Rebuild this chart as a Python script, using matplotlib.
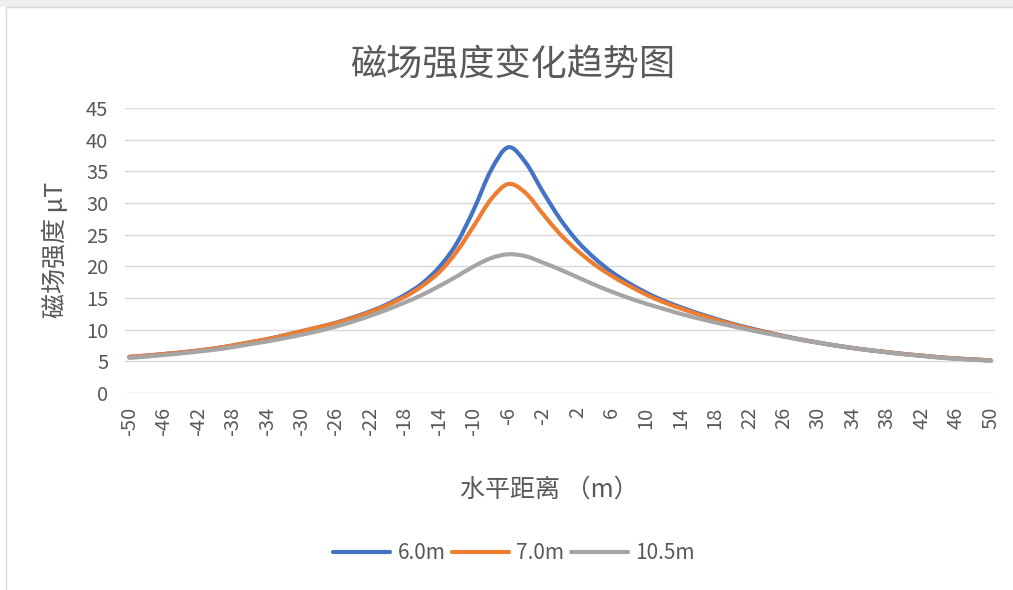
import matplotlib
matplotlib.use("Agg")
import matplotlib.pyplot as plt
from matplotlib.path import Path
from matplotlib.patches import PathPatch, Rectangle
from matplotlib.lines import Line2D
import numpy as np

plt.rcParams['font.family'] = ['Noto Sans CJK SC', 'DejaVu Sans']

# horizontal distance from the line centre (m)
distance = list(range(-50, 51, 2))

# field strength (uT) for each conductor height
field_6_0m = [5.7, 5.9, 6.15, 6.4, 6.7, 7.05, 7.5, 8.0, 8.5, 9.1,
              9.75, 10.4, 11.1, 11.95, 12.9, 14.05, 15.5, 17.3, 19.9, 23.6,
              29.0, 35.2, 38.8, 36.4, 31.8, 27.5, 24.0, 21.3, 19.1, 17.35,
              15.85, 14.6, 13.55, 12.6, 11.75, 10.95, 10.25, 9.6, 9.0, 8.45,
              7.95, 7.5, 7.1, 6.75, 6.45, 6.15, 5.9, 5.65, 5.45, 5.3, 5.15]
field_7_0m = [5.7, 5.9, 6.15, 6.4, 6.7, 7.05, 7.5, 8.0, 8.5, 9.1,
              9.75, 10.4, 11.05, 11.85, 12.8, 13.9, 15.2, 16.9, 19.1, 22.3,
              26.4, 30.6, 33.0, 31.6, 28.3, 25.1, 22.5, 20.3, 18.5, 16.95,
              15.55, 14.35, 13.35, 12.45, 11.6, 10.85, 10.15, 9.55, 8.95, 8.4,
              7.95, 7.5, 7.1, 6.75, 6.45, 6.15, 5.9, 5.65, 5.45, 5.3, 5.15]
field_10_5m = [5.55, 5.75, 6.0, 6.25, 6.55, 6.85, 7.25, 7.7, 8.15, 8.65,
               9.2, 9.8, 10.5, 11.3, 12.2, 13.2, 14.3, 15.5, 16.9, 18.4,
               20.0, 21.3, 21.9, 21.6, 20.6, 19.5, 18.3, 17.1, 16.0, 15.0,
               14.1, 13.3, 12.5, 11.8, 11.15, 10.55, 9.95, 9.4, 8.9, 8.4,
               7.95, 7.5, 7.1, 6.75, 6.4, 6.1, 5.85, 5.6, 5.4, 5.25, 5.1]

series_labels = ['6.0m', '7.0m', '10.5m']
series_colors = ['#4472C4', '#ED7D31', '#A5A5A5']
x_ticks = list(range(-50, 51, 4))
y_ticks = list(range(0, 46, 5))

TEXT = '#595959'


def smooth_path(xs, ys, tension=1.0 / 6.0):
    """Bezier path passing through every data point (spreadsheet-style smoothing)."""
    xs = np.asarray(xs, float)
    ys = np.asarray(ys, float)
    n = len(xs)
    verts = [(xs[0], ys[0])]
    codes = [Path.MOVETO]
    for i in range(n - 1):
        p0 = np.array([xs[max(i - 1, 0)], ys[max(i - 1, 0)]])
        p1 = np.array([xs[i], ys[i]])
        p2 = np.array([xs[i + 1], ys[i + 1]])
        p3 = np.array([xs[min(i + 2, n - 1)], ys[min(i + 2, n - 1)]])
        c1 = p1 + (p2 - p0) * tension
        c2 = p2 - (p3 - p1) * tension
        verts += [tuple(c1), tuple(c2), tuple(p2)]
        codes += [Path.CURVE4] * 3
    return Path(verts, codes)


fig = plt.figure(figsize=(10.13, 5.90), dpi=100)
fig.patch.set_facecolor('white')

# outer chart frame
fig.add_artist(Rectangle((0, 1 - 7 / 590), 1, 7 / 590, transform=fig.transFigure,
                         facecolor='#eeeeee', edgecolor='none', zorder=0))
fig.add_artist(Rectangle((6 / 1013, -0.01), 1.5, 1 - 7 / 590 + 0.01,
                         transform=fig.transFigure, facecolor='none',
                         edgecolor='#d9d9d9', linewidth=1.0, zorder=0))

ax = fig.add_axes([125 / 1013, 1 - 393 / 590, 870 / 1013, 285 / 590])
ax.set_xlim(-50.5, 50.5)
ax.set_ylim(0, 45)

for ys, color in zip([field_6_0m, field_7_0m, field_10_5m], series_colors):
    ax.add_patch(PathPatch(smooth_path(distance, ys), facecolor='none',
                           edgecolor=color, linewidth=3.0, capstyle='round',
                           joinstyle='round', zorder=3))

ax.set_yticks(y_ticks)
ax.set_xticks(x_ticks)
ax.set_xticklabels([str(v) for v in x_ticks], rotation=90)
ax.tick_params(axis='both', length=0, colors=TEXT, labelsize=14.5)
ax.tick_params(axis='x', pad=10)
ax.tick_params(axis='y', pad=12)
ax.yaxis.grid(True, color='#d9d9d9', linewidth=1.0)
ax.xaxis.grid(False)
ax.set_axisbelow(True)
for s in ax.spines.values():
    s.set_visible(False)

fig.text(513 / 1013, 1 - 65 / 590, '磁场强度变化趋势图', ha='center', va='center',
         fontsize=26, color=TEXT)
fig.text(56 / 1013, 1 - 250 / 590, '磁场强度 μT', ha='center', va='center',
         rotation=90, fontsize=18, color=TEXT)
fig.text(549 / 1013, 1 - 490 / 590, '水平距离 （m）', ha='center', va='center',
         fontsize=18, color=TEXT)

handles = [Line2D([], [], color=c, linewidth=3.0, solid_capstyle='round')
           for c in series_colors]
fig.legend(handles, series_labels, loc='center', bbox_to_anchor=(514 / 1013, 1 - 553 / 590),
           ncol=3, frameon=False, fontsize=15, handlelength=2.75,
           handletextpad=0.35, columnspacing=0.3, labelcolor=TEXT)

fig.savefig('out.png', dpi=100, facecolor='white')
